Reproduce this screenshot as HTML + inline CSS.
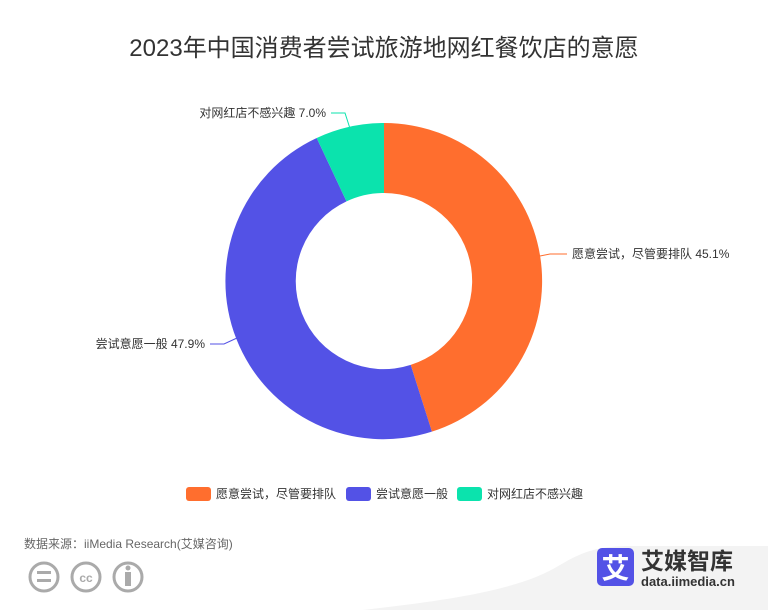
<!DOCTYPE html>
<html><head><meta charset="utf-8"><style>
body{margin:0;width:768px;height:610px;background:#fff;overflow:hidden;font-family:"Liberation Sans","Noto Sans CJK SC",sans-serif}
</style></head><body>
<svg width="768" height="610" xmlns="http://www.w3.org/2000/svg" font-family="Liberation Sans, Noto Sans CJK SC, sans-serif">
<path d="M363 610 C450 600 520 590 560 565 C585 550 600 547 625 546 L768 546 L768 610 Z" fill="#f3f3f3"/>
<text x="384" y="56" text-anchor="middle" font-size="24" fill="#333">2023年中国消费者尝试旅游地网红餐饮店的意愿</text>
<path d="M384 123 A158 158 0 0 1 431.9 431.6 L410.7 364.9 A88 88 0 0 0 384 193 Z" fill="#ff6e2e"/>
<path d="M431.9 431.6 A158 158 0 0 1 316.7 138 L346.5 201.4 A88 88 0 0 0 410.7 364.9 Z" fill="#5352e6"/>
<path d="M316.7 138 A158 158 0 0 1 384 123 L384 193 A88 88 0 0 0 346.5 201.4 Z" fill="#0be3ad"/>
<polyline points="540,256 550,254 567,254" fill="none" stroke="#ff6e2e"/>
<text x="572" y="258" font-size="12" fill="#333">愿意尝试，尽管要排队 45.1%</text>
<polyline points="237,338 224,344 210,344" fill="none" stroke="#5352e6"/>
<text x="205" y="348" text-anchor="end" font-size="12" fill="#333">尝试意愿一般 47.9%</text>
<polyline points="349.5,127 345,113 331,113" fill="none" stroke="#0be3ad"/>
<text x="326" y="117" text-anchor="end" font-size="12" fill="#333">对网红店不感兴趣 7.0%</text>
<rect x="186" y="487" width="25" height="14" rx="3" fill="#ff6e2e"/>
<text x="216" y="498" font-size="12" fill="#333">愿意尝试，尽管要排队</text>
<rect x="346" y="487" width="25" height="14" rx="3" fill="#5352e6"/>
<text x="376" y="498" font-size="12" fill="#333">尝试意愿一般</text>
<rect x="457" y="487" width="25" height="14" rx="3" fill="#0be3ad"/>
<text x="487" y="498" font-size="12" fill="#333">对网红店不感兴趣</text>
<text x="24" y="548" font-size="12" fill="#666">数据来源：iiMedia Research(艾媒咨询)</text>
<g fill="none" stroke="#aaa" stroke-width="3">
<circle cx="44" cy="577" r="14"/><circle cx="86" cy="577" r="14"/><circle cx="128" cy="577" r="14"/>
</g>
<rect x="37" y="571" width="14" height="3" fill="#aaa"/><rect x="37" y="579" width="14" height="3" fill="#aaa"/>
<text x="86" y="582" text-anchor="middle" font-size="12" font-weight="bold" fill="#aaa">cc</text>
<circle cx="128" cy="568" r="2.5" fill="#aaa"/><rect x="125" y="572" width="6" height="14" fill="#aaa"/>
<rect x="597" y="548" width="37" height="38" rx="5" fill="#5352e6"/>
<text x="615.5" y="578" text-anchor="middle" font-size="28" font-weight="bold" fill="#fff">艾</text>
<text x="641" y="569" font-size="23" font-weight="bold" fill="#333">艾媒智库</text>
<text x="641" y="586" font-size="13" font-weight="bold" fill="#333">data.iimedia.cn</text>
</svg>
</body></html>
